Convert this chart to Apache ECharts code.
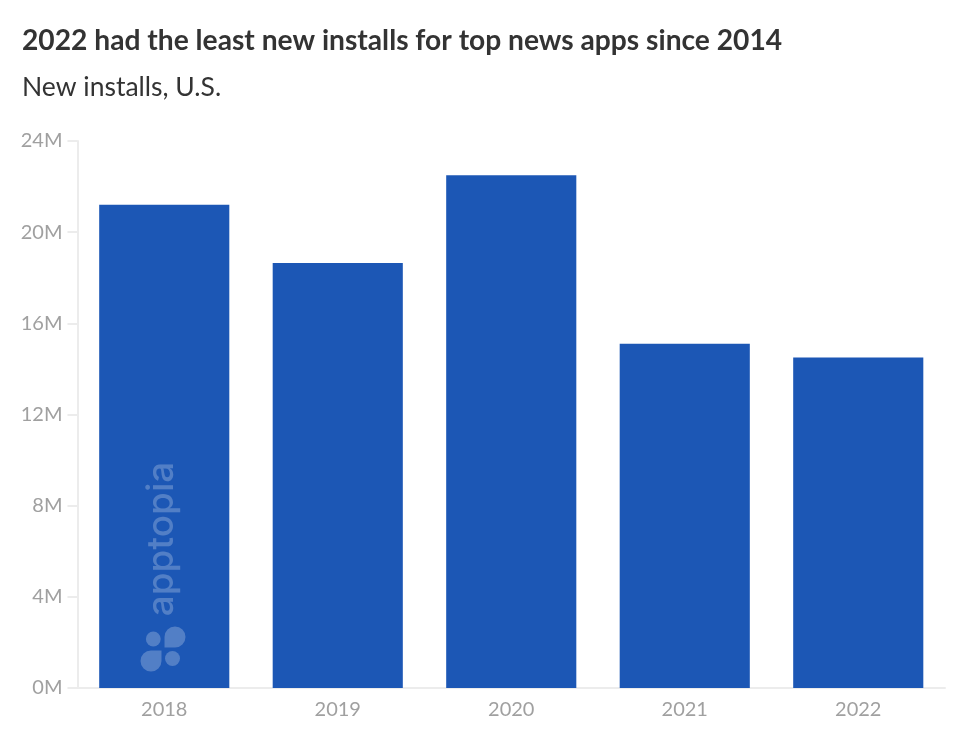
<!DOCTYPE html>
<html>
<head>
<meta charset="utf-8">
<title>New installs</title>
<script src="https://cdn.jsdelivr.net/npm/echarts@6/dist/echarts.min.js"></script>
<style>
  html, body { margin: 0; padding: 0; background: #fff; }
  #chart { width: 980px; height: 730px; }
</style>
</head>
<body>
<div id="chart"></div>
<script>
const years = ['2018', '2019', '2020', '2021', '2022'];
const installs = [21.2, 18.65, 22.5, 15.1, 14.5];
const yTicks = [0, 4, 8, 12, 16, 20, 24];

const grey = '#a0a0a0';
const lineGrey = '#ececec';
const markWhite = 'rgba(255,255,255,0.24)';

const chart = echarts.init(document.getElementById('chart'));
chart.setOption({
  animation: false,
  textStyle: { fontFamily: 'Lato' },
  title: {
    left: 17,
    top: 22,
    text: '2022 had the least new installs for top news apps since 2014',
    subtext: 'New installs, U.S.',
    itemGap: 19,
    textStyle: { fontFamily: 'Lato', fontSize: 28.2, fontWeight: 'bold', color: '#333333' },
    subtextStyle: { fontFamily: 'Lato', fontSize: 26.5, color: '#333333' }
  },
  grid: { left: 77.5, top: 141, width: 867.5, height: 547 },
  xAxis: {
    type: 'category',
    data: years,
    axisLine: { lineStyle: { color: lineGrey, width: 2 } },
    axisTick: { alignWithLabel: true, length: 10, lineStyle: { color: lineGrey, width: 2 } },
    axisLabel: { color: grey, fontSize: 20, margin: 12 }
  },
  yAxis: {
    type: 'value',
    min: 0,
    max: 24,
    interval: 4,
    axisLine: { show: true, lineStyle: { color: lineGrey, width: 2 } },
    axisTick: { show: true, length: 10, lineStyle: { color: lineGrey, width: 2 } },
    splitLine: { show: false },
    axisLabel: { color: grey, fontSize: 20, margin: 15, formatter: v => yTicks.includes(v) ? v + 'M' : '' }
  },
  series: [{
    type: 'bar',
    data: installs,
    barWidth: '75%',
    itemStyle: { color: '#1c57b5' }
  }],
  // apptopia watermark, petals are a 3/4 sector plus a square corner
  graphic: [
    { type: 'text', x: 162, y: 539, rotation: Math.PI / 2, z: 10,
      style: { text: 'apptopia', fontFamily: 'Inter', fontWeight: 500, fontSize: 37, fill: markWhite, align: 'center', verticalAlign: 'middle' } },
    { type: 'circle', z: 10, shape: { cx: 153.3, cy: 639, r: 7.4 }, style: { fill: markWhite } },
    { type: 'circle', z: 10, shape: { cx: 172.5, cy: 658.5, r: 7.5 }, style: { fill: markWhite } },
    { type: 'sector', z: 10, shape: { cx: 175, cy: 637, r: 10.5, r0: 0, startAngle: Math.PI, endAngle: Math.PI * 2.5, clockwise: true }, style: { fill: markWhite } },
    { type: 'rect', z: 10, shape: { x: 164.5, y: 637, width: 10.5, height: 10.5 }, style: { fill: markWhite } },
    { type: 'sector', z: 10, shape: { cx: 151, cy: 661, r: 10.5, r0: 0, startAngle: 0, endAngle: Math.PI * 1.5, clockwise: true }, style: { fill: markWhite } },
    { type: 'rect', z: 10, shape: { x: 151, y: 650.5, width: 10.5, height: 10.5 }, style: { fill: markWhite } }
  ]
});
</script>
</body>
</html>
